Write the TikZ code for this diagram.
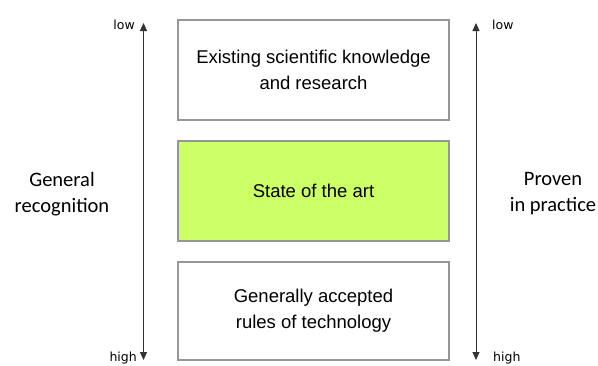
\documentclass[tikz,border=0pt]{standalone}
\usepackage{fontspec}
\setmainfont{Liberation Sans}
\newfontfamily\sidefont{Carlito}
\newfontfamily\tickfont{DejaVu Sans}
\usetikzlibrary{arrows.meta}
\definecolor{artgreen}{RGB}{204,255,102}
\definecolor{boxgray}{RGB}{150,150,150}
\tikzset{
  layer/.style={draw=boxgray, line width=1.2pt, minimum width=271pt, minimum height=100pt,
    align=center, font=\fontsize{18.5}{26}\selectfont},
  scale arrow/.style={draw=black!80, line width=0.9pt,
    {Triangle[width=7pt,length=8pt]}-{Triangle[width=7pt,length=8pt]}},
  tick/.style={inner sep=0pt, font=\tickfont\fontsize{12.5}{14}\selectfont},
  side/.style={inner sep=0pt, align=center, font=\sidefont\fontsize{20.5}{26}\selectfont}
}
\begin{document}
\begin{tikzpicture}[x=1pt,y=-1pt]
  \useasboundingbox (0,0) rectangle (598,365);

  % the three layers
  \node[layer] (research) at (313.5,70) {Existing scientific knowledge\\and research};
  \node[layer, fill=artgreen] (art) at (313.5,191) {State of the art};
  \node[layer, minimum height=98pt] (rules) at (313.5,311) {Generally accepted\\rules of technology};

  % left scale
  \coordinate (ltop) at (143.5,23);
  \coordinate (lbot) at (143.5,360);
  \draw[scale arrow] (ltop) -- (lbot);
  \node[tick, anchor=base east] (llow) at (135,29) {low};
  \node[tick, anchor=base east] (lhigh) at (137,361) {high};
  \node[side] (recognition) at (62,194) {General\\recognition};

  % right scale
  \coordinate (rtop) at (476,23);
  \coordinate (rbot) at (476,360);
  \draw[scale arrow] (rtop) -- (rbot);
  \node[tick, anchor=base west] (rlow) at (492,29) {low};
  \node[tick, anchor=base west] (rhigh) at (493,361) {high};
  \node[side] (practice) at (553,194) {Proven\\in practice};
\end{tikzpicture}
\end{document}
